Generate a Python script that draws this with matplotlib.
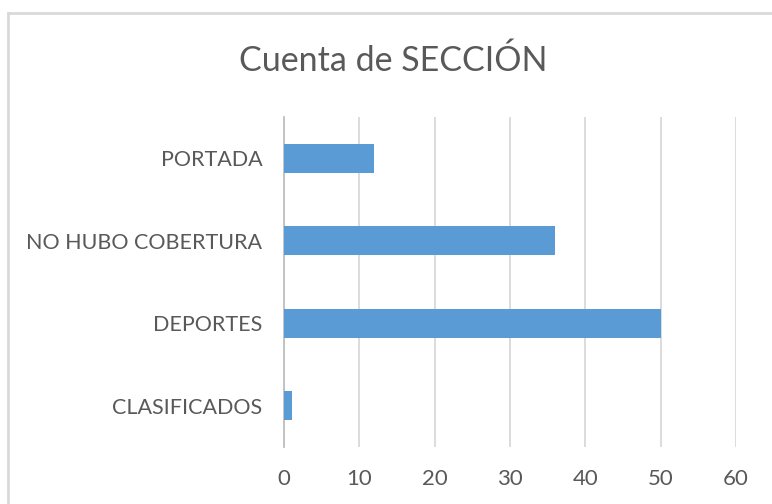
import matplotlib
matplotlib.use("Agg")
import matplotlib.pyplot as plt
from matplotlib.lines import Line2D

categories = ["CLASIFICADOS", "DEPORTES", "NO HUBO COBERTURA", "PORTADA"]
values = [1, 50, 36, 12]
xticks = [0, 10, 20, 30, 40, 50, 60]
title = "Cuenta de SECCIÓN"

W, H = 772, 504
fig = plt.figure(figsize=(W / 100, H / 100), dpi=100)
plt.rcParams['font.family'] = ['Lato', 'DejaVu Sans']

text_color = "#595959"
grid_color = "#d9d9d9"
bar_color = "#5b9bd5"

ax = fig.add_axes([284 / W, 1 - 447 / H, (736 - 284) / W, (447 - 117) / H])
ax.barh(range(len(categories)), values, height=0.35, color=bar_color, zorder=3)
ax.set_ylim(-0.5, len(categories) - 0.5)
ax.set_xlim(0, 60)
ax.set_xticks(xticks)
ax.set_xticklabels([str(t) for t in xticks])
ax.set_yticks(range(len(categories)))
ax.set_yticklabels(categories)
ax.grid(axis="x", color=grid_color, linewidth=1.3, zorder=0)
ax.tick_params(axis="both", length=0, colors=text_color)
ax.tick_params(axis="x", pad=15.5, labelsize=16)
ax.tick_params(axis="y", pad=15.5, labelsize=15.5)
for s in ["top", "right", "bottom"]:
    ax.spines[s].set_visible(False)
ax.spines["left"].set_color("#bfbfbf")
ax.spines["left"].set_linewidth(1.3)

fig.text(393 / W, 1 - 61 / H, title, ha="center", va="center",
         fontsize=24.5, color=text_color)

# chart area border (cropped on right and bottom)
fig.add_artist(Line2D([8 / W, 1.0], [1 - 13 / H, 1 - 13 / H], color=grid_color,
                      linewidth=2.0, transform=fig.transFigure))
fig.add_artist(Line2D([8 / W, 8 / W], [1 - 13 / H, 0.0], color=grid_color,
                      linewidth=2.0, transform=fig.transFigure))

fig.savefig("out.png", dpi=100)
